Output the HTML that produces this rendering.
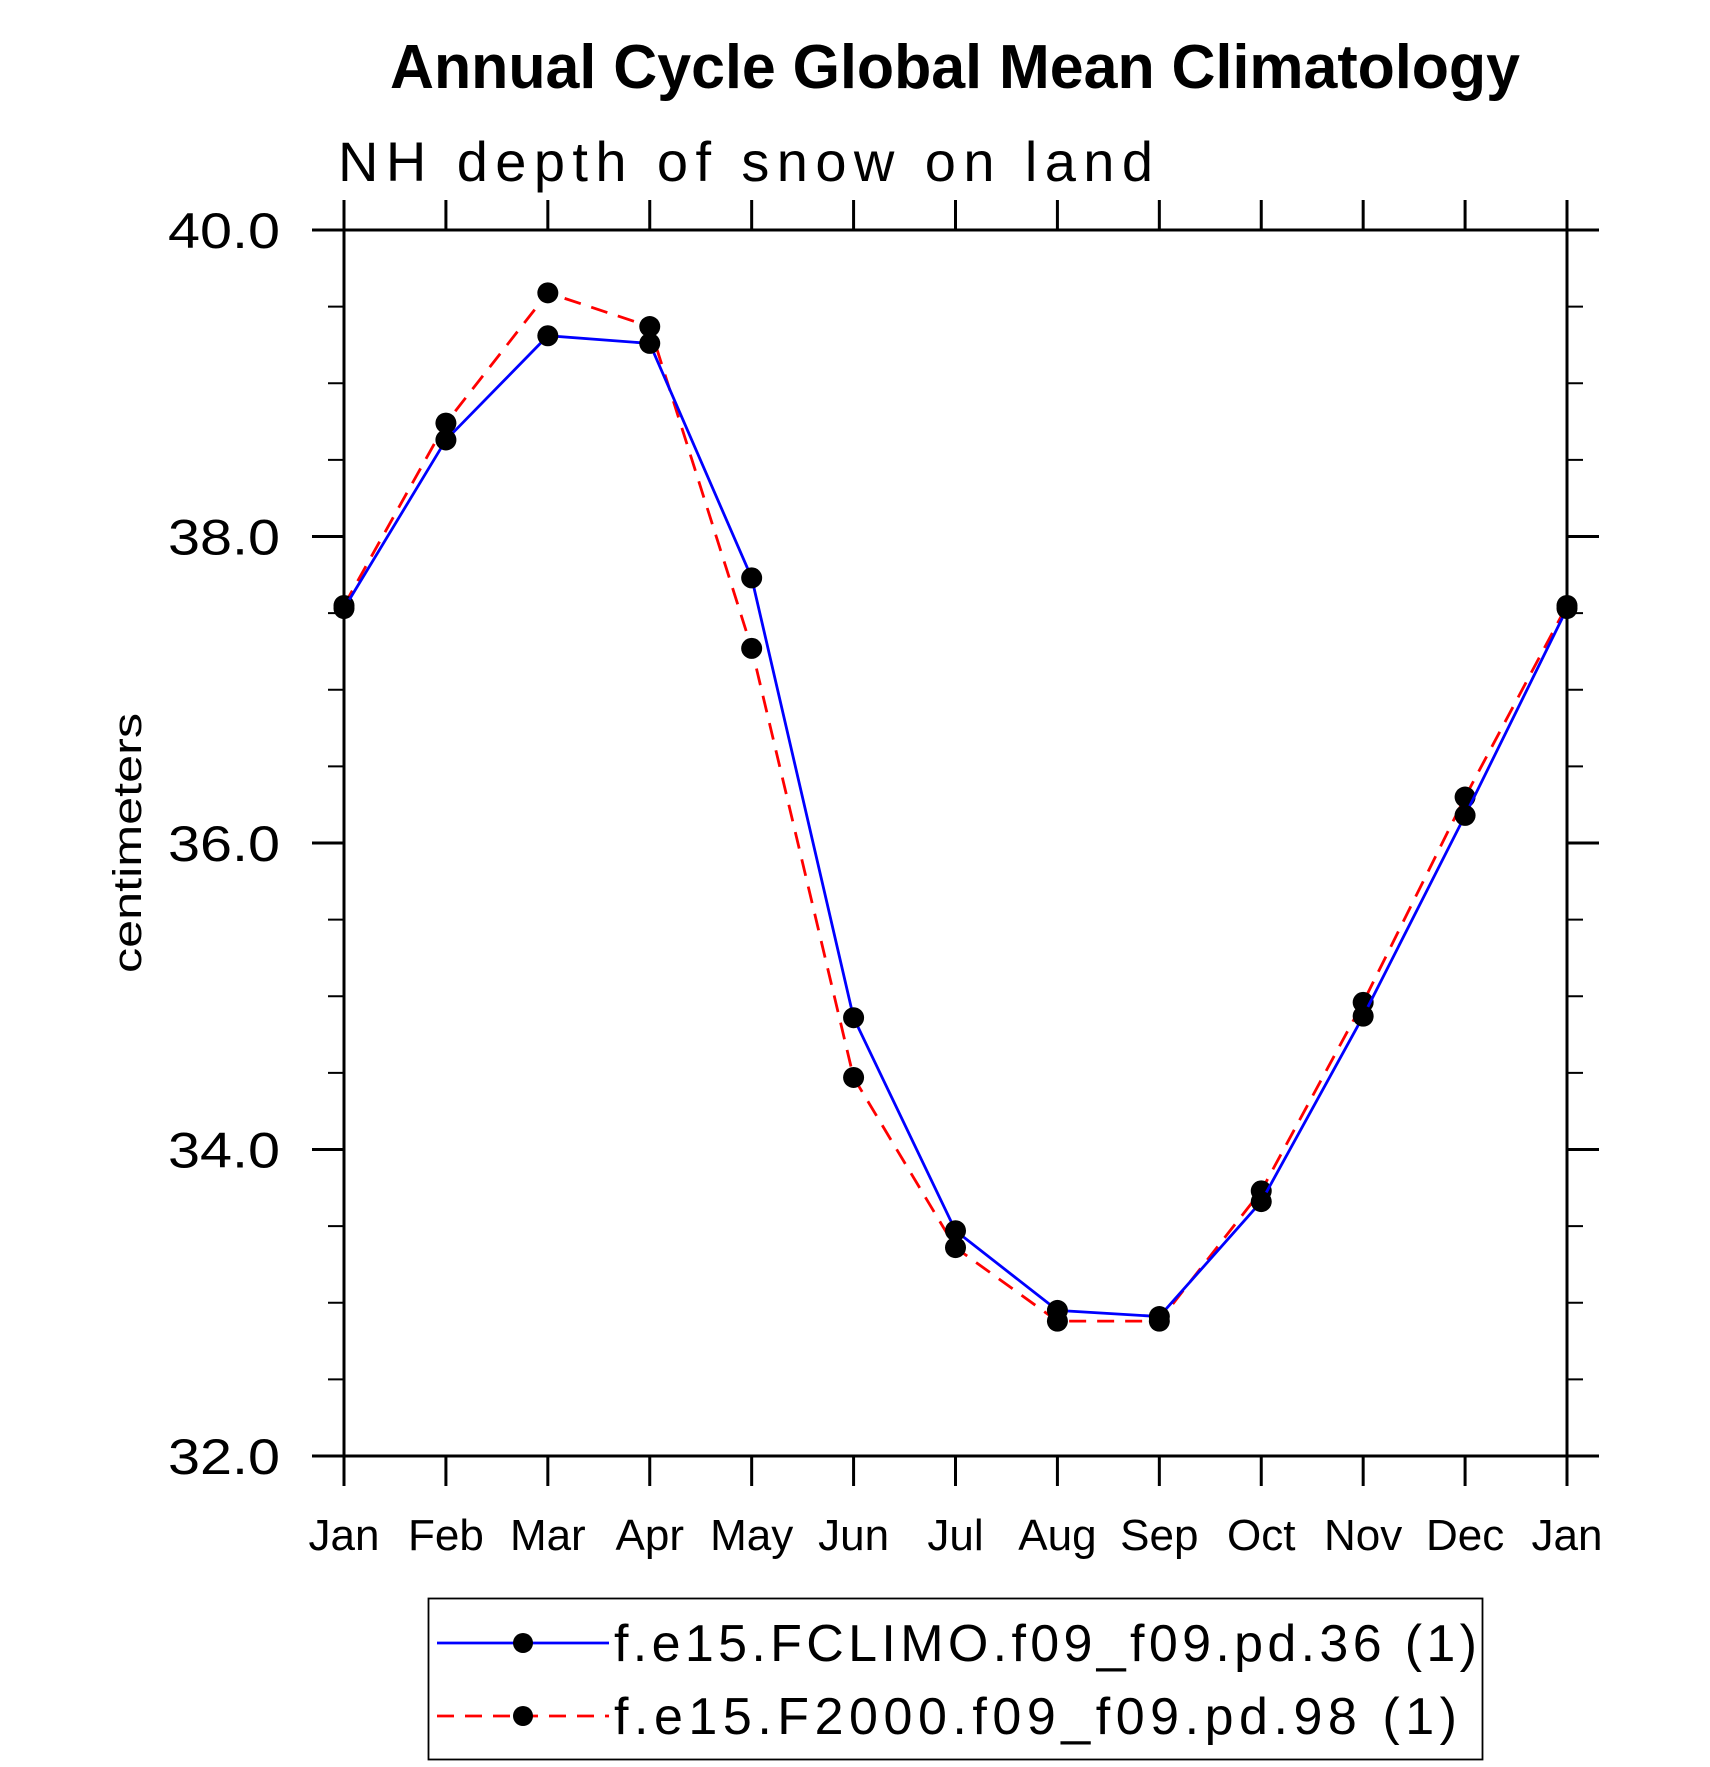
<!DOCTYPE html>
<html><head><meta charset="utf-8"><style>
html,body{margin:0;padding:0;background:#fff;}
svg{display:block;font-family:"Liberation Sans",sans-serif;}
</style></head><body>
<svg id="chart" width="1710" height="1767" viewBox="0 0 1710 1767" xmlns="http://www.w3.org/2000/svg">
<text x="955" y="88" text-anchor="middle" font-size="62" font-weight="bold" textLength="1130" lengthAdjust="spacingAndGlyphs">Annual Cycle Global Mean Climatology</text>
<text x="338" y="181" font-size="56" font-weight="300" textLength="815" lengthAdjust="spacing">NH depth of snow on land</text>
<text transform="translate(141,843) rotate(-90)" text-anchor="middle" font-size="40" textLength="260" lengthAdjust="spacingAndGlyphs">centimeters</text>
<g id="axes"></g>
<g id="series"></g>
<g id="legend">
<rect x="428.5" y="1598.5" width="1054" height="161" fill="none" stroke="#000" stroke-width="1.8"/>
<g>
<line x1="437" y1="1643" x2="609" y2="1643" stroke="#0000ff" stroke-width="2.8"/>
<circle cx="523" cy="1643" r="10" fill="#000"/>
<text x="614" y="1661" font-size="52" textLength="863" lengthAdjust="spacing">f.e15.FCLIMO.f09_f09.pd.36 (1)</text>
</g>
<g>
<line x1="437" y1="1716" x2="609" y2="1716" stroke="#ff0000" stroke-width="2.8" stroke-dasharray="17,11"/>
<circle cx="523" cy="1716" r="10" fill="#000"/>
<text x="614" y="1734" font-size="52" textLength="843" lengthAdjust="spacing">f.e15.F2000.f09_f09.pd.98 (1)</text>
</g>
</g>
</svg>
<script>
const months = ["Jan","Feb","Mar","Apr","May","Jun","Jul","Aug","Sep","Oct","Nov","Dec","Jan"];
const fclimo = [37.53,38.63,39.31,39.26,37.73,34.86,33.47,32.95,32.91,33.66,34.87,36.18,37.53];
const f2000 = [37.55,38.74,39.59,39.37,37.27,34.47,33.36,32.88,32.88,33.73,34.96,36.30,37.55];
const yTicks = [32,34,36,38,40];
const yTickLabels = ["32.0","34.0","36.0","38.0","40.0"];
const yMinor = [32.5,33,33.5,34.5,35,35.5,36.5,37,37.5,38.5,39,39.5];

const L=344,R=1567,T=230,B=1456,yMin=32,yMax=40;
const xs=i=>L+(R-L)*i/(months.length-1);
const ys=v=>B-(B-T)*(v-yMin)/(yMax-yMin);
const NS="http://www.w3.org/2000/svg";
function mk(tag,attrs,parent){const e=document.createElementNS(NS,tag);for(const k in attrs)e.setAttribute(k,attrs[k]);parent.appendChild(e);return e;}
const ax=document.getElementById('axes');
const frame=mk('rect',{x:L,y:T,width:R-L,height:B-T,fill:'none',stroke:'#000','stroke-width':3},ax);


months.forEach((m,i)=>{
  const x=xs(i);
  mk('line',{x1:x,y1:B,x2:x,y2:B+30,stroke:'#000','stroke-width':3},ax);
  mk('line',{x1:x,y1:T,x2:x,y2:T-30,stroke:'#000','stroke-width':3},ax);
  const t=mk('text',{x:x,y:1550,'text-anchor':'middle','font-size':44},ax);
  t.textContent=m;
  
  
});
yTicks.forEach((v,i)=>{
  const y=ys(v);
  mk('line',{x1:L-32,y1:y,x2:L,y2:y,stroke:'#000','stroke-width':3},ax);
  mk('line',{x1:R,y1:y,x2:R+32,y2:y,stroke:'#000','stroke-width':3},ax);
  const t=mk('text',{x:280,y:y+18,'text-anchor':'end','font-size':50,textLength:112,lengthAdjust:'spacingAndGlyphs'},ax);
  t.textContent=yTickLabels[i];
  
  
});
yMinor.forEach(v=>{
  const y=ys(v);
  mk('line',{x1:L-16,y1:y,x2:L,y2:y,stroke:'#000','stroke-width':2},ax);
  mk('line',{x1:R,y1:y,x2:R+16,y2:y,stroke:'#000','stroke-width':2},ax);
});
const sg=document.getElementById('series');
function drawSeries(vals,color,dash,name){
  const g=mk('g',{},sg);
  
  
  const p=mk('polyline',{points:vals.map((v,i)=>xs(i)+','+ys(v)).join(' '),fill:'none',stroke:color,'stroke-width':2.8},g);
  if(dash)p.setAttribute('stroke-dasharray',dash);
  vals.forEach((v,i)=>{
    const c=mk('circle',{cx:xs(i),cy:ys(v),r:10.5,fill:'#000'},g);
    
    
  });
}
drawSeries(f2000,'#ff0000','17,11','series-f2000');
drawSeries(fclimo,'#0000ff',null,'series-fclimo');
</script>
</body></html>
